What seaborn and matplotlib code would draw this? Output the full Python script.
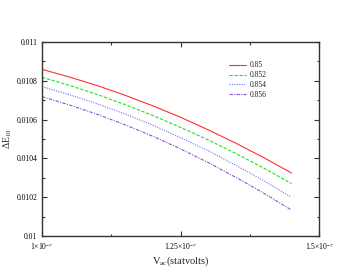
import numpy as np
import pandas as pd
import matplotlib
matplotlib.use("Agg")
import matplotlib.pyplot as plt
import seaborn as sns
from matplotlib.ticker import MultipleLocator, FixedLocator

# V_ac values (statvolts)
v_ac = [1.00e-7, 1.05e-7, 1.10e-7, 1.15e-7, 1.20e-7,
        1.25e-7, 1.30e-7, 1.35e-7, 1.40e-7, 1.45e-7]

# Delta E_10 for each parameter value
de_085 = [0.010859, 0.010819, 0.010775, 0.010725, 0.010671,
          0.010612, 0.010547, 0.010478, 0.010404, 0.010325]
de_0852 = [0.010818, 0.010776, 0.010729, 0.010677, 0.010621,
           0.010560, 0.010495, 0.010425, 0.010350, 0.010270]
de_0854 = [0.010770, 0.010728, 0.010681, 0.010629, 0.010571,
           0.010507, 0.010439, 0.010364, 0.010285, 0.010200]
de_0856 = [0.010718, 0.010675, 0.010627, 0.010573, 0.010514,
           0.010449, 0.010378, 0.010302, 0.010221, 0.010134]

series_labels = ["0.85", "0.852", "0.854", "0.856"]
x_ticks = [1.0e-7, 1.25e-7, 1.5e-7]
x_tick_labels = [r"1$\times$10$^{-7}$", r"1.25$\times$10$^{-7}$", r"1.5$\times$10$^{-7}$"]
y_ticks = [0.01, 0.0102, 0.0104, 0.0106, 0.0108, 0.011]
y_tick_labels = ["0.01", "0.0102", "0.0104", "0.0106", "0.0108", "0.011"]

rows = []
for lab, vals in zip(series_labels, [de_085, de_0852, de_0854, de_0856]):
    for x, y in zip(v_ac, vals):
        rows.append({"V": x, "dE": y, "p": lab})
df = pd.DataFrame(rows)

sns.set_theme(style="ticks")
plt.rcParams["font.family"] = ["Liberation Serif", "DejaVu Serif"]
plt.rcParams["mathtext.fontset"] = "custom"
plt.rcParams["mathtext.rm"] = "Liberation Serif"
plt.rcParams["mathtext.it"] = "Liberation Serif"

fig = plt.figure(figsize=(3.59, 2.78), dpi=100)
ax = fig.add_axes([0.117, 0.151, 0.772, 0.698])

colors = ["#ff3030", "#20e020", "#7070ff", "#9050d0"]
styles = ["-", (0, (3, 1.5)), (0, (1, 1.2)), (0, (3, 1.2, 1, 1.2))]

for lab, c, ls in zip(series_labels, colors, styles):
    sub = df[df["p"] == lab]
    sns.lineplot(data=sub, x="V", y="dE", ax=ax, color=c, linestyle=ls,
                 linewidth=0.8, label=lab)

ax.set_xlim(1.0e-7, 1.5e-7)
ax.set_ylim(0.01, 0.011)
ax.xaxis.set_major_locator(FixedLocator(x_ticks))
ax.set_xticklabels(x_tick_labels)
ax.xaxis.set_minor_locator(MultipleLocator(0.125e-7))
ax.yaxis.set_major_locator(FixedLocator(y_ticks))
ax.set_yticklabels(y_tick_labels)
ax.yaxis.set_minor_locator(MultipleLocator(0.0001))

ax.tick_params(which="both", direction="in", top=True, right=True,
               labelsize=5.5, width=0.8, colors="#333333", labelcolor="black")
ax.tick_params(which="major", length=3.5)
ax.tick_params(which="minor", length=1.8)
for side in ax.spines.values():
    side.set_linewidth(1.0)
    side.set_color("#333333")

ax.set_xlabel(r"V$_{\mathrm{ac}}$(statvolts)", fontsize=7.5, labelpad=2)
ax.set_ylabel(r"$\Delta$E$_{10}$", fontsize=7)
ax.yaxis.set_label_coords(-0.1, 0.5)

leg = ax.legend(loc="upper left", bbox_to_anchor=(0.66, 0.92), frameon=False,
                fontsize=5.5, handlelength=2.2, handletextpad=0.6,
                labelspacing=0.25, borderpad=0)

fig.savefig("out.png", dpi=100)
